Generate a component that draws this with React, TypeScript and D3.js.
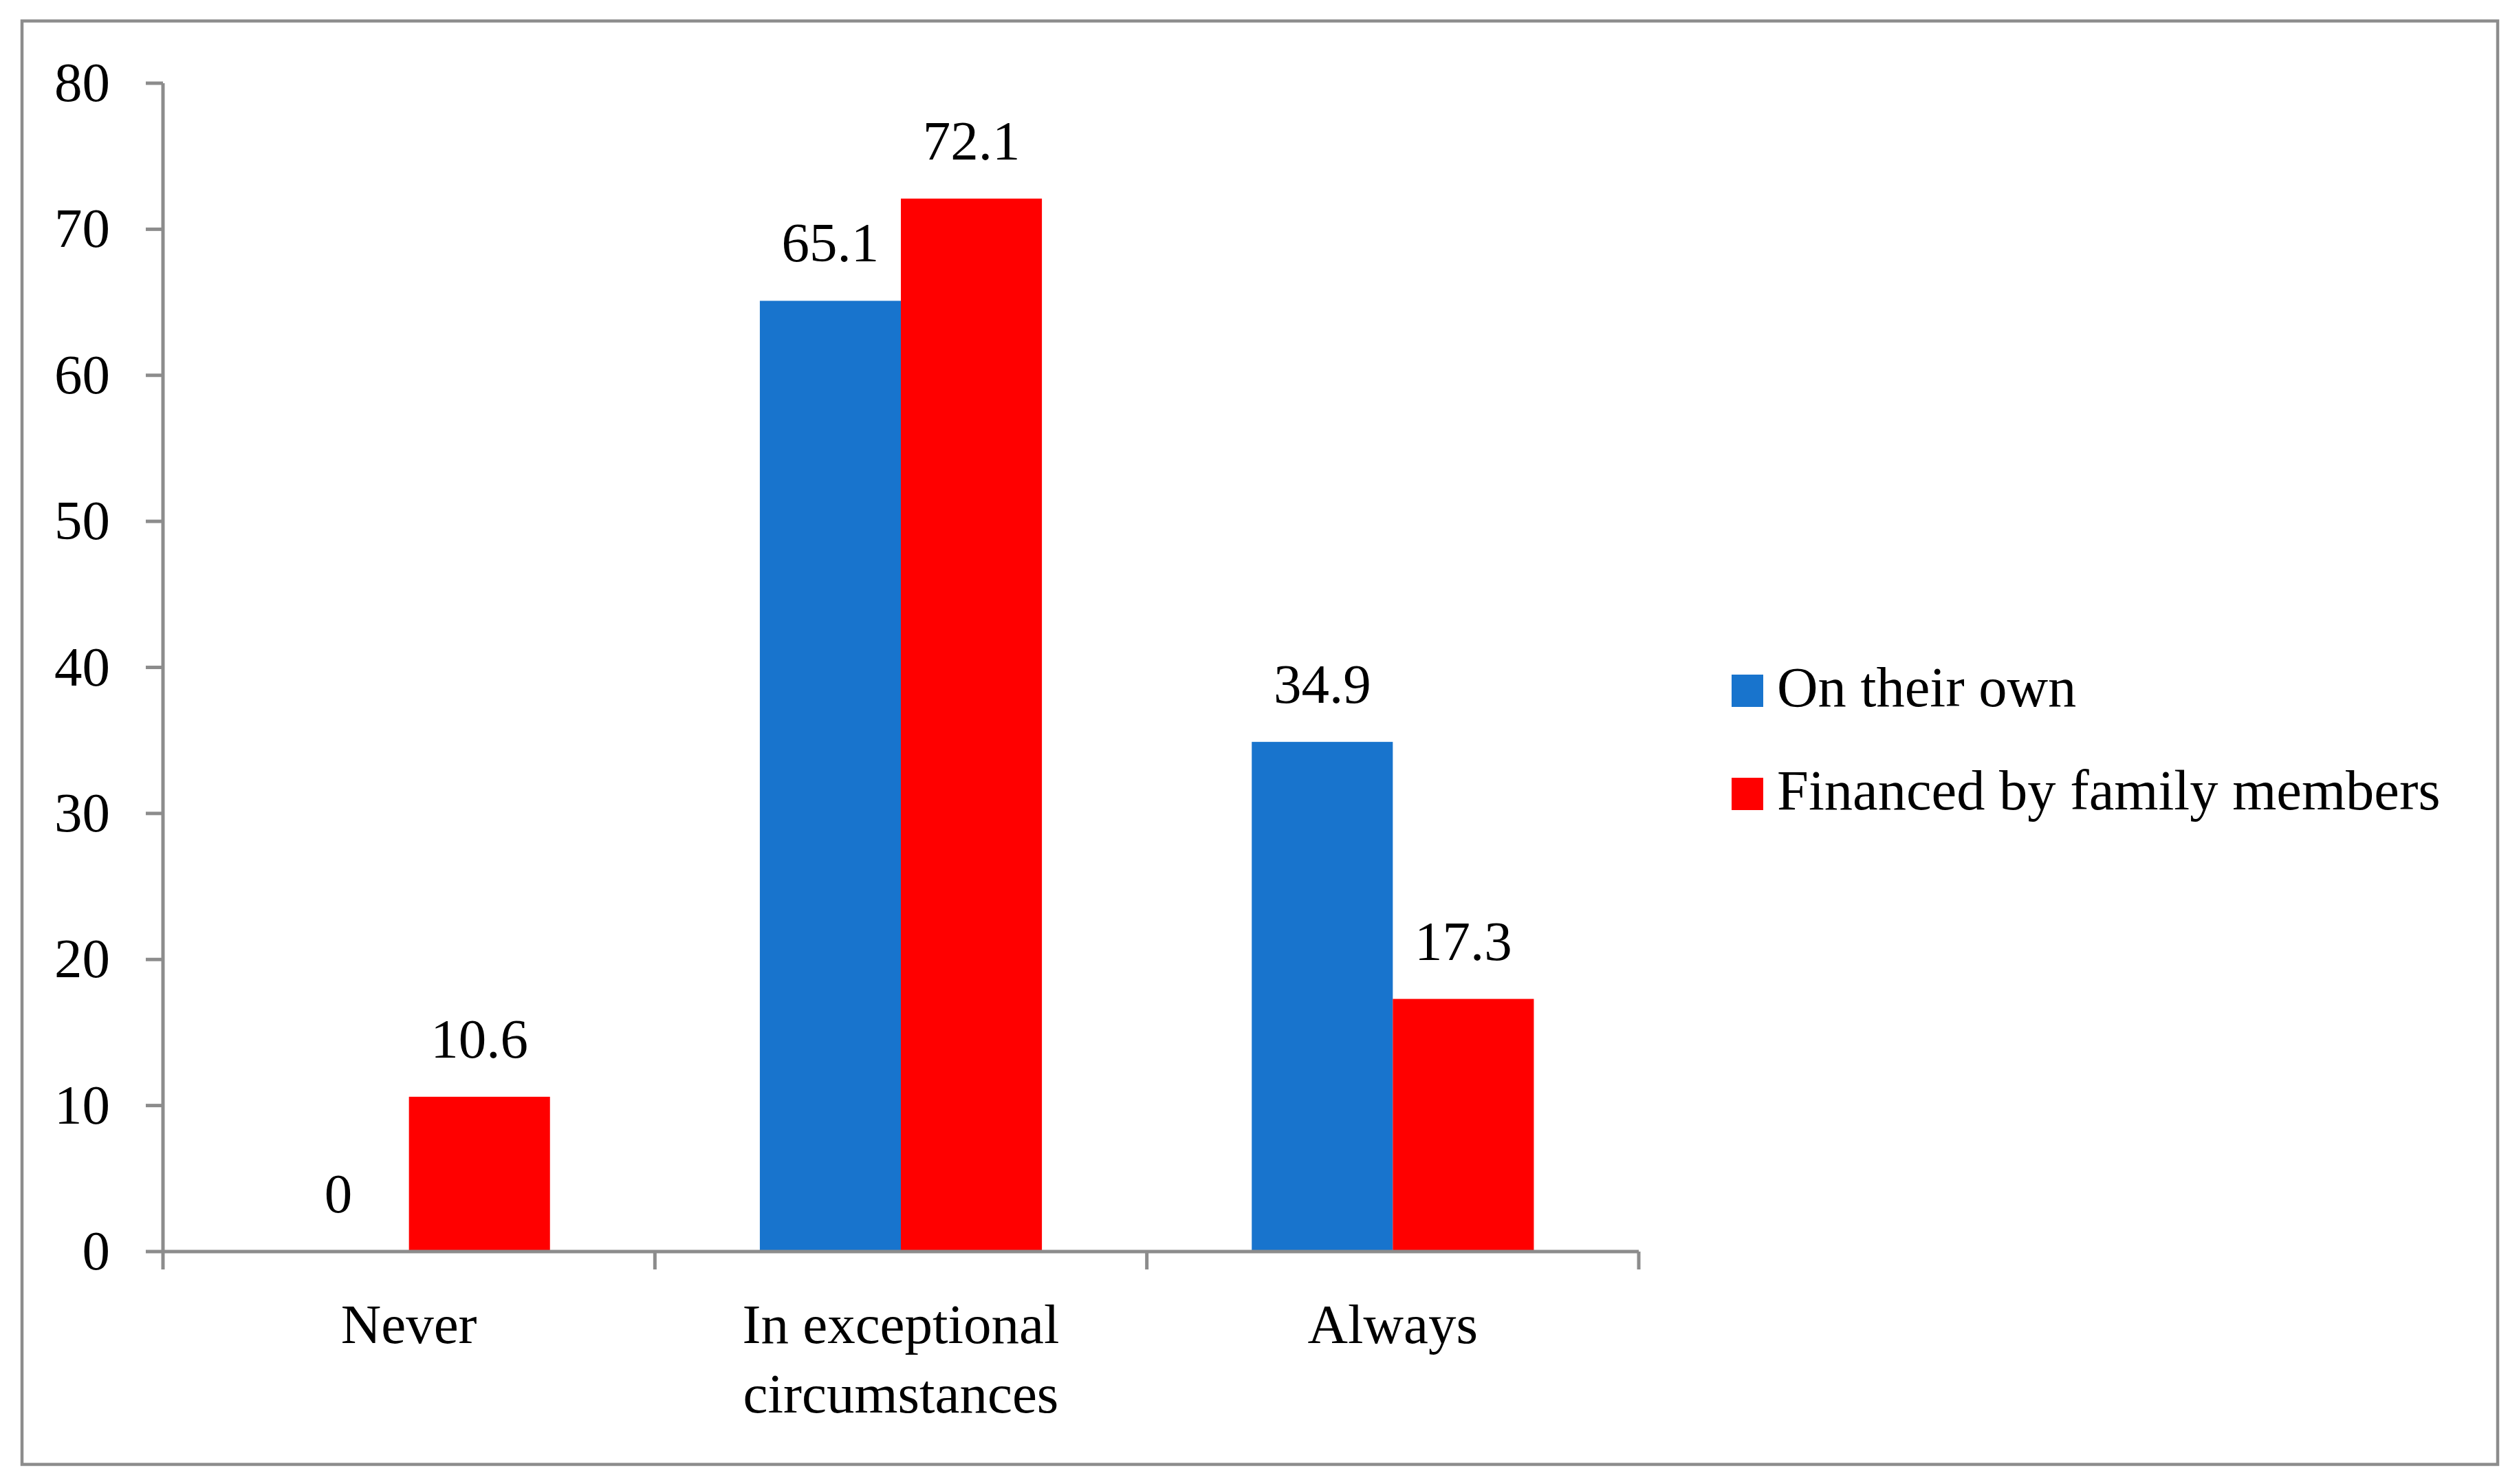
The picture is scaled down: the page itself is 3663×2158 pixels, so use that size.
import React from "react";
import * as d3 from "d3";

const categories: string[][] = [["Never"], ["In exceptional", "circumstances"], ["Always"]];
const categoryKeys = ["Never", "In exceptional circumstances", "Always"];
const seriesNames = ["On their own", "Financed by family members"];
const onTheirOwn = [0, 65.1, 34.9];
const financedByFamily = [10.6, 72.1, 17.3];
const yTicks = [0, 10, 20, 30, 40, 50, 60, 70, 80];
const colors = ["#1874CD", "#FF0000"];

const W = 3663;
const H = 2158;
const FONT = "'Liberation Serif', 'Times New Roman', serif";
const FS = 81;
const GRAY = "#8c8c8c";

export default function App() {
  const x0 = d3.scaleBand<string>().domain(categoryKeys).range([237, 2383]).padding(0);
  const x1 = d3
    .scaleBand<string>()
    .domain(seriesNames)
    .range([0, x0.bandwidth()])
    .paddingInner(0)
    .paddingOuter(0.744);
  const y = d3.scaleLinear().domain([0, 80]).range([1820, 121]);
  const series = [onTheirOwn, financedByFamily];

  return (
    <svg
      width={W}
      height={H}
      style={{ position: "fixed", left: 0, top: 0, background: "#fff" }}
      fontFamily={FONT}
    >
      <rect x={0} y={0} width={W} height={H} fill="#fff" />
      <rect x={32} y={30.5} width={3600} height={2099} fill="none" stroke={GRAY} strokeWidth={4.5} />

      {/* bars */}
      {categoryKeys.map((c, ci) =>
        seriesNames.map((s, si) => {
          const v = series[si][ci];
          const bx = (x0(c) as number) + (x1(s) as number);
          return (
            <rect
              key={c + s}
              x={bx}
              y={y(v)}
              width={x1.bandwidth()}
              height={y(0) - y(v)}
              fill={colors[si]}
            />
          );
        })
      )}

      {/* data labels */}
      {categoryKeys.map((c, ci) =>
        seriesNames.map((s, si) => {
          const v = series[si][ci];
          const cx = (x0(c) as number) + (x1(s) as number) + x1.bandwidth() / 2;
          return (
            <text key={"l" + c + s} x={cx} y={y(v) - 57} fontSize={FS} textAnchor="middle" fill="#000">
              {String(v)}
            </text>
          );
        })
      )}

      {/* y axis */}
      <line x1={237} x2={237} y1={y(80)} y2={y(0)} stroke={GRAY} strokeWidth={5} />
      {yTicks.map((t) => (
        <g key={"yt" + t}>
          <line x1={212} x2={237} y1={y(t)} y2={y(t)} stroke={GRAY} strokeWidth={5} />
          <text x={160} y={y(t) + 26} fontSize={FS} textAnchor="end" fill="#000">
            {t}
          </text>
        </g>
      ))}

      {/* x axis */}
      <line x1={237} x2={2383} y1={y(0)} y2={y(0)} stroke={GRAY} strokeWidth={5} />
      {[...categoryKeys.map((c) => x0(c) as number), 2383].map((xx, i) => (
        <line key={"xt" + i} x1={xx} x2={xx} y1={y(0)} y2={y(0) + 26} stroke={GRAY} strokeWidth={5} />
      ))}
      {categoryKeys.map((c, ci) => (
        <text
          key={"xl" + c}
          x={(x0(c) as number) + x0.bandwidth() / 2}
          y={1953}
          fontSize={FS}
          textAnchor="middle"
          fill="#000"
        >
          {categories[ci].map((line, li) => (
            <tspan key={li} x={(x0(c) as number) + x0.bandwidth() / 2} dy={li === 0 ? 0 : 101}>
              {line}
            </tspan>
          ))}
        </text>
      ))}

      {/* legend */}
      {seriesNames.map((s, si) => (
        <g key={"lg" + s} transform={`translate(2518, ${981 + si * 150})`}>
          <rect x={0} y={0} width={46} height={47} fill={colors[si]} />
          <text x={66} y={46} fontSize={82.5} fill="#000">
            {s}
          </text>
        </g>
      ))}
    </svg>
  );
}
